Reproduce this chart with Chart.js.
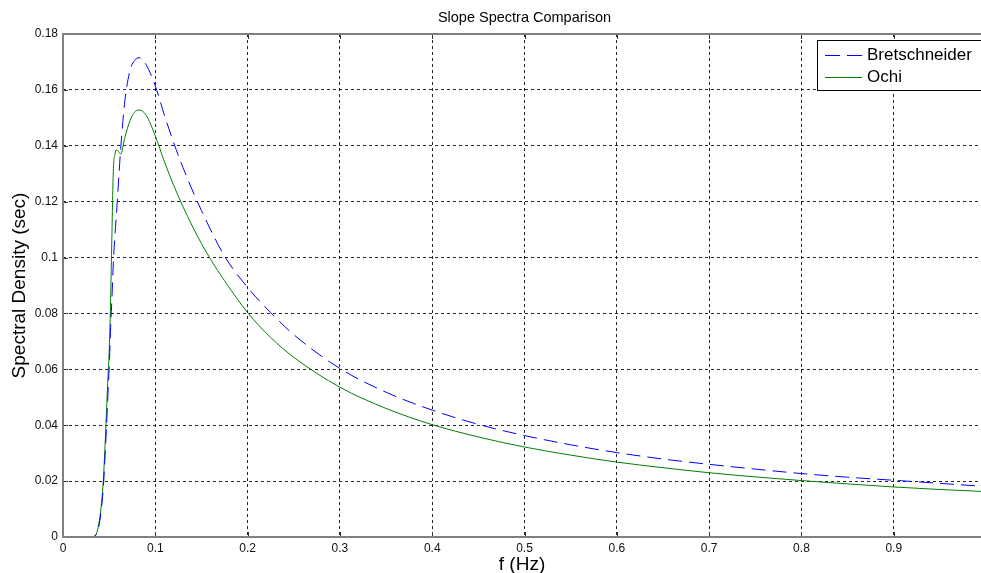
<!DOCTYPE html>
<html>
<head>
<meta charset="utf-8">
<title>Slope Spectra Comparison</title>
<script src="https://cdn.jsdelivr.net/npm/chart.js@4.4.1/dist/chart.umd.min.js"></script>
<style>
    html, body { margin: 0; padding: 0; background: #fff; }
    #chart-container { width: 981px; height: 573px; }
</style>
</head>
<body>
<div id="chart-container"><canvas id="spectraChart" width="981" height="573"></canvas></div>
<script>
// frequency (Hz) shared by both spectra
const freqHz = [0, 0.02, 0.03, 0.035, 0.04, 0.0437, 0.0466, 0.0484, 0.0502, 0.0516, 0.0527, 0.0545,
    0.0563, 0.058, 0.0605, 0.0625, 0.067, 0.0726, 0.0775, 0.0825, 0.09, 0.1, 0.11, 0.12, 0.13, 0.14,
    0.15, 0.16, 0.175, 0.2, 0.225, 0.25, 0.3, 0.35, 0.4, 0.45, 0.5, 0.55, 0.6, 0.65, 0.7, 0.75, 0.8,
    0.85, 0.9, 0.95, 0.99, 1.0];

const bretschneider = [0, 0, 0, 0.0005, 0.006, 0.018, 0.036, 0.049, 0.062, 0.075, 0.083, 0.098,
    0.108, 0.116, 0.129, 0.139, 0.156, 0.167, 0.1705, 0.1715, 0.169, 0.1614, 0.1508, 0.141, 0.1322, 0.1242,
    0.1168, 0.1099, 0.1005, 0.0893, 0.0803, 0.0724, 0.0603, 0.0518, 0.0454, 0.0403, 0.0363, 0.033, 0.0302, 0.0279,
    0.026, 0.0243, 0.0227, 0.0214, 0.0203, 0.0192, 0.0183, 0.0181];

const ochi = [0, 0, 0, 0.0005, 0.0073, 0.0204, 0.0406, 0.055, 0.068, 0.085, 0.103, 0.131,
    0.137, 0.1385, 0.1378, 0.137, 0.143, 0.149, 0.152, 0.1528, 0.151, 0.1435, 0.1342, 0.1258, 0.1182, 0.1113,
    0.105, 0.0993, 0.0917, 0.0803, 0.0714, 0.0643, 0.0536, 0.046, 0.0402, 0.0358, 0.0322, 0.0293, 0.0268, 0.0248,
    0.023, 0.0215, 0.0202, 0.019, 0.0179, 0.017, 0.0164, 0.0162];

const xTicks = [0, 0.1, 0.2, 0.3, 0.4, 0.5, 0.6, 0.7, 0.8, 0.9];
const yTicks = [0, 0.02, 0.04, 0.06, 0.08, 0.1, 0.12, 0.14, 0.16, 0.18];

const seriesLabels = ['Bretschneider', 'Ochi'];

const FONT = 'Arial, "Liberation Sans", sans-serif';

function toPoints(values) {
    return freqHz.map((f, i) => ({ x: f, y: values[i] }));
}

function fmtTick(v) {
    return String(Number(v.toFixed(2)));
}

// matlab style frame: box, inward ticks, title and boxed legend
const matlabFrame = {
    id: 'matlabFrame',
    afterDraw(chart) {
        const ctx = chart.ctx;
        const area = chart.chartArea;
        const xs = chart.scales.x;
        const ys = chart.scales.y;
        ctx.save();

        // inward tick marks (right side is cropped off in the original)
        ctx.strokeStyle = '#333';
        ctx.lineWidth = 1;
        ctx.beginPath();
        xTicks.forEach(v => {
            const px = Math.round(xs.getPixelForValue(v)) + 0.5;
            ctx.moveTo(px, area.bottom); ctx.lineTo(px, area.bottom - 5);
            ctx.moveTo(px, area.top); ctx.lineTo(px, area.top + 5);
        });
        yTicks.forEach(v => {
            const py = Math.round(ys.getPixelForValue(v)) + 0.5;
            ctx.moveTo(area.left, py); ctx.lineTo(area.left + 5, py);
        });
        ctx.stroke();

        // axes box
        ctx.strokeStyle = '#808080';
        ctx.lineWidth = 2;
        ctx.strokeRect(area.left, area.top, area.right - area.left + 6, area.bottom - area.top);

        // title, centred over the full (cropped) axes
        ctx.fillStyle = '#000';
        ctx.font = '14.5px ' + FONT;
        ctx.textAlign = 'center';
        ctx.textBaseline = 'middle';
        ctx.fillText('Slope Spectra Comparison', xs.getPixelForValue(0.5), 18);

        // legend
        const lx = area.right - 164;
        const ly = area.top + 6;
        ctx.fillStyle = '#fff';
        ctx.fillRect(lx, ly, 170, 50);
        ctx.strokeStyle = '#000';
        ctx.lineWidth = 1;
        ctx.strokeRect(lx + 0.5, ly + 0.5, 170, 50);

        ctx.font = '17px ' + FONT;
        ctx.textAlign = 'left';
        chart.data.datasets.forEach((ds, i) => {
            const rowY = ly + 15 + i * 22;
            ctx.strokeStyle = ds.borderColor;
            ctx.lineWidth = 1;
            ctx.setLineDash(ds.borderDash ? [15, 7] : []);
            ctx.beginPath();
            ctx.moveTo(lx + 8, rowY + 0.5);
            ctx.lineTo(lx + 45, rowY + 0.5);
            ctx.stroke();
            ctx.setLineDash([]);
            ctx.fillStyle = '#000';
            ctx.fillText(ds.label, lx + 50, rowY);
        });
        ctx.restore();
    }
};

const ctx = document.getElementById('spectraChart').getContext('2d');
new Chart(ctx, {
    type: 'line',
    data: {
        datasets: [{
            label: seriesLabels[0],
            data: toPoints(bretschneider),
            borderColor: '#0000ff',
            borderWidth: 1,
            borderDash: [14, 7],
            pointRadius: 0,
            cubicInterpolationMode: 'monotone',
            fill: false
        }, {
            label: seriesLabels[1],
            data: toPoints(ochi),
            borderColor: '#008000',
            borderWidth: 1,
            pointRadius: 0,
            cubicInterpolationMode: 'monotone',
            fill: false
        }]
    },
    options: {
        responsive: false,
        animation: false,
        layout: { padding: { top: 34, right: 0, left: 0, bottom: 0 } },
        plugins: {
            legend: { display: false },
            title: { display: false },
            tooltip: { enabled: false }
        },
        scales: {
            x: {
                type: 'linear',
                min: 0,
                max: 0.9945,
                afterBuildTicks: scale => { scale.ticks = xTicks.map(v => ({ value: v })); },
                afterFit: scale => { scale.height = 36; },
                ticks: {
                    padding: 4,
                    color: '#111',
                    font: { family: FONT, size: 12 },
                    maxRotation: 0,
                    callback: v => fmtTick(v)
                },
                grid: {
                    drawTicks: false,
                    color: 'rgba(0,0,0,0.85)',
                    lineWidth: 1
                },
                border: { display: false, dash: [3, 3] },
                title: {
                    display: true,
                    text: 'f (Hz)',
                    color: '#000',
                    font: { family: FONT, size: 19, lineHeight: 0.9 },
                    padding: { top: 0, bottom: 0 }
                }
            },
            y: {
                min: 0,
                max: 0.18,
                afterBuildTicks: scale => { scale.ticks = yTicks.map(v => ({ value: v })); },
                afterFit: scale => { scale.width = 63; },
                ticks: {
                    padding: 5,
                    color: '#111',
                    font: { family: FONT, size: 12 },
                    callback: v => fmtTick(v)
                },
                grid: {
                    drawTicks: false,
                    color: 'rgba(0,0,0,0.85)',
                    lineWidth: 1
                },
                border: { display: false, dash: [3, 3] },
                title: {
                    display: true,
                    text: 'Spectral Density (sec)',
                    color: '#000',
                    font: { family: FONT, size: 19, lineHeight: 1.2 },
                    padding: { top: 8, bottom: 0 }
                }
            }
        }
    },
    plugins: [matlabFrame]
});
</script>
</body>
</html>
